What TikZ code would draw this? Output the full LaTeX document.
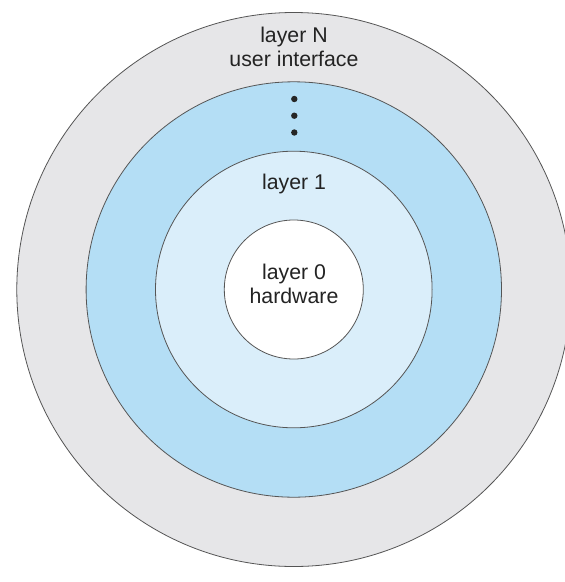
\documentclass[tikz,border=0pt]{standalone}
\usepackage{fontspec}
\setmainfont{Liberation Sans}
\definecolor{ringgray}{RGB}{230,230,232}
\definecolor{ringblue}{RGB}{180,222,245}
\definecolor{ringlight}{RGB}{218,238,250}
\definecolor{edge}{RGB}{85,85,85}
\definecolor{txt}{RGB}{35,35,35}
\begin{document}
\begin{tikzpicture}[x=1pt,y=-1pt,
  ring/.style={draw=edge,line width=0.8pt},
  lbl/.style={text=txt,font=\fontsize{21.3}{24}\selectfont,align=center,inner sep=0pt},
  dot/.style={circle,fill=black!85,inner sep=0pt,minimum size=6.4pt}]
\useasboundingbox (0,0) rectangle (565,582);
\clip (0,0) rectangle (565,582);
\fill[white] (0,0) rectangle (565,582);
\coordinate (c) at (293.8,289.5);
\draw[ring,fill=ringgray] (c) circle (277);
\draw[ring,fill=ringblue] (c) circle (207.7);
\draw[ring,fill=ringlight] (c) circle (138.3);
\draw[ring,fill=white] (c) circle (69.5);
\node[lbl] (layerN) at (294,47) {layer N\\user interface};
\node[dot] (d1) at (294.3,99) {};
\node[dot] (d2) at (294.3,115.7) {};
\node[dot] (d3) at (294.3,132.5) {};
\node[lbl] (layer1) at (294,184) {layer 1};
\node[lbl] (layer0) at (294,284) {layer 0\\hardware};
\end{tikzpicture}
\end{document}
